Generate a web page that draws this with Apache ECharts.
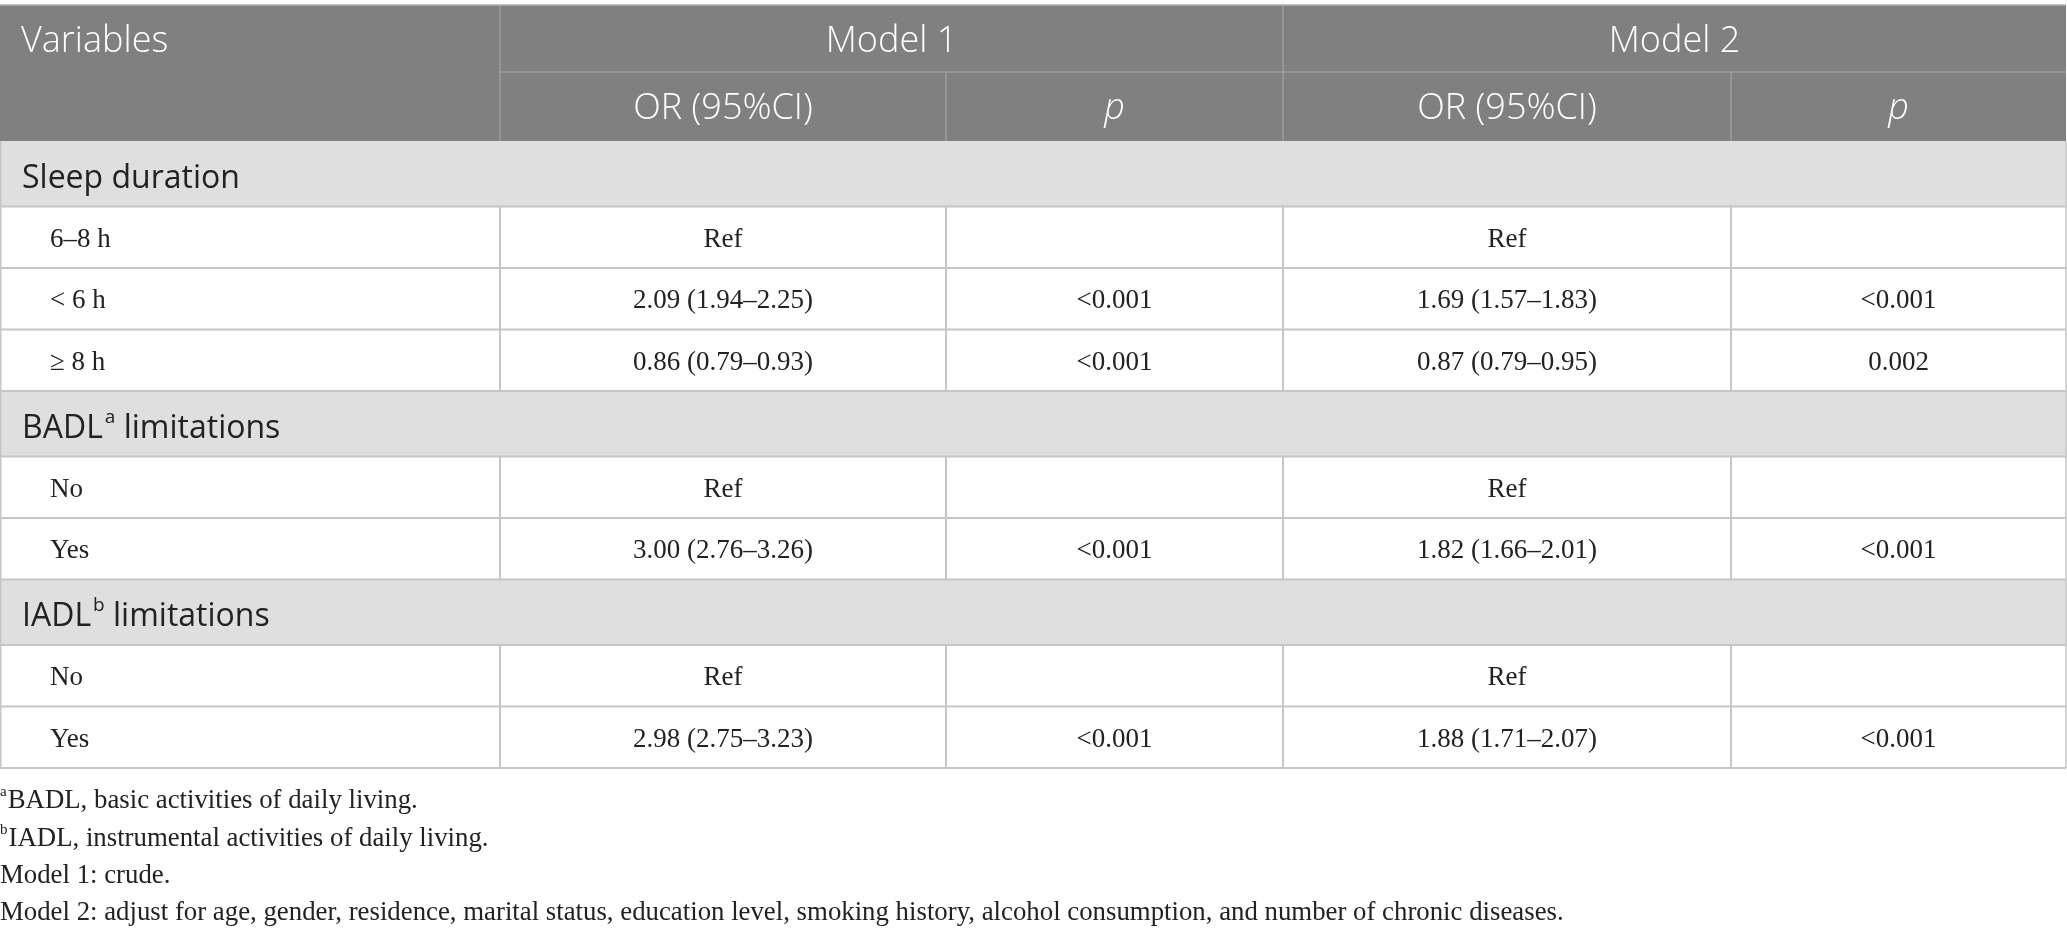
<!DOCTYPE html>
<html>
<head>
<meta charset="utf-8">
<script src="https://cdn.jsdelivr.net/npm/echarts@6/dist/echarts.min.js"></script>
<style>
html,body{margin:0;padding:0;background:#fff;}
#chart{width:2067px;height:932px;}
</style>
</head>
<body>
<div id="chart"></div>
<script>
// ---- data ----
var headerTop = ['Variables', 'Model 1', 'Model 2'];
var headerSub = ['OR (95%CI)', 'p', 'OR (95%CI)', 'p'];
var sections = [
  {name: 'Sleep duration', sup: ''},
  {name: 'BADL', sup: 'a', rest: ' limitations'},
  {name: 'IADL', sup: 'b', rest: ' limitations'}
];
var sectionRows = [3, 2, 2];
var rowLabels = ['6–8 h', '< 6 h', '≥ 8 h', 'No', 'Yes', 'No', 'Yes'];
var model1OR = ['Ref', '2.09 (1.94–2.25)', '0.86 (0.79–0.93)', 'Ref', '3.00 (2.76–3.26)', 'Ref', '2.98 (2.75–3.23)'];
var model1P  = ['', '<0.001', '<0.001', '', '<0.001', '', '<0.001'];
var model2OR = ['Ref', '1.69 (1.57–1.83)', '0.87 (0.79–0.95)', 'Ref', '1.82 (1.66–2.01)', 'Ref', '1.88 (1.71–2.07)'];
var model2P  = ['', '<0.001', '0.002', '', '<0.001', '', '<0.001'];
var footnotes = [
  {sup: 'a', text: 'BADL, basic activities of daily living.'},
  {sup: 'b', text: 'IADL, instrumental activities of daily living.'},
  {sup: '', text: 'Model 1: crude.'},
  {sup: '', text: 'Model 2: adjust for age, gender, residence, marital status, education level, smoking history, alcohol consumption, and number of chronic diseases.'}
];

// ---- layout ----
var colX = [0, 500, 946, 1283, 1731, 2066];
var tableTop = 5, head1H = 67, head2H = 69, sectionH = 65.5, rowH = 61.5;
var headBg = '#7f807f', secBg = '#e0dfe0', lineCol = '#c6c6c6', headLine = '#9c9c9c';
var sansFont = '"Open Sans", "Noto Sans", sans-serif';
var serifFont = '"Liberation Serif", "DejaVu Serif", serif';
var headSize = 36, secSize = 32, bodySize = 27, noteSize = 26.8;

var g = [];
function rect(x, y, w, h, fill) {
  g.push({type: 'rect', shape: {x: x, y: y, width: w, height: h}, style: {fill: fill}, silent: true});
}
function line(x1, y1, x2, y2, col, w) {
  g.push({type: 'line', shape: {x1: x1, y1: y1, x2: x2, y2: y2}, style: {stroke: col, lineWidth: w || 1.5}, silent: true, z: 5});
}
function text(t, x, y, align, font, size, fill, style, extra) {
  var s = {text: t, x: x, y: y, align: align, verticalAlign: 'middle',
    fontFamily: font, fontSize: size, fill: fill, fontStyle: style || 'normal'};
  if (extra) for (var k in extra) s[k] = extra[k];
  g.push({type: 'text', style: s, silent: true, z: 10});
}

// header
var h1 = tableTop, h2 = tableTop + head1H, hEnd = h2 + head2H;
rect(0, h1, colX[5], hEnd - h1, headBg);
line(0, h1, colX[5], h1, '#b0b0b0', 1.5);
line(colX[1], h2, colX[5], h2, headLine, 1.5);
line(colX[1], h1, colX[1], hEnd, headLine, 1.5);
line(colX[3], h1, colX[3], hEnd, headLine, 1.5);
line(colX[2], h2, colX[2], hEnd, headLine, 1.5);
line(colX[4], h2, colX[4], hEnd, headLine, 1.5);
var hw = {fontWeight: 300};
text(headerTop[0], 21, h1 + head1H / 2 + 3, 'left', sansFont, headSize, '#fff', 'normal', hw);
text(headerTop[1], (colX[1] + colX[3]) / 2, h1 + head1H / 2 + 3, 'center', sansFont, headSize, '#fff', 'normal', hw);
text(headerTop[2], (colX[3] + colX[5]) / 2, h1 + head1H / 2 + 3, 'center', sansFont, headSize, '#fff', 'normal', hw);
for (var i = 0; i < 4; i++) {
  var cx = (colX[i + 1] + colX[i + 2]) / 2;
  text(headerSub[i], cx, h2 + head2H / 2 + 2, 'center', sansFont, headSize, '#fff', headerSub[i] === 'p' ? 'italic' : 'normal', hw);
}

// body
var y = hEnd, r = 0;
for (var s = 0; s < sections.length; s++) {
  rect(0, y, colX[5], sectionH, secBg);
  var sec = sections[s];
  var rt = sec.sup ? '{m|' + sec.name + '}{s|' + sec.sup + '}{m|' + sec.rest + '}' : '{m|' + sec.name + '}';
  text(rt, 22, y + sectionH / 2 + 1, 'left', sansFont, secSize, '#222', 'normal', {
    rich: {
      m: {fontFamily: sansFont, fontSize: secSize, fill: '#222', lineHeight: 40, verticalAlign: 'bottom'},
      s: {fontFamily: sansFont, fontSize: 19, fill: '#222', lineHeight: 40, verticalAlign: 'top', padding: [3, 0, 0, 2]}
    }
  });
  line(0, y + sectionH, colX[5], y + sectionH, lineCol, 2);
  y += sectionH;
  for (var k = 0; k < sectionRows[s]; k++, r++) {
    var cy = y + rowH / 2 + 2.5;
    text(rowLabels[r], 50, cy, 'left', serifFont, bodySize, '#222');
    text(model1OR[r], (colX[1] + colX[2]) / 2, cy, 'center', serifFont, bodySize, '#222');
    text(model1P[r], (colX[2] + colX[3]) / 2, cy, 'center', serifFont, bodySize, '#222');
    text(model2OR[r], (colX[3] + colX[4]) / 2, cy, 'center', serifFont, bodySize, '#222');
    text(model2P[r], (colX[4] + colX[5]) / 2, cy, 'center', serifFont, bodySize, '#222');
    for (var c = 1; c < 5; c++) line(colX[c], y, colX[c], y + rowH, lineCol, 2);
    line(0, y + rowH, colX[5], y + rowH, lineCol, 2);
    y += rowH;
  }
}
// outer verticals
line(0.75, hEnd, 0.75, y, lineCol, 1.5);
line(colX[5], hEnd, colX[5], y, lineCol, 1.5);

// footnotes
var fy = [798, 836, 873, 910];
for (var f = 0; f < footnotes.length; f++) {
  var fn = footnotes[f];
  var t = fn.sup ? '{s|' + fn.sup + '}{m|' + fn.text + '}' : '{m|' + fn.text + '}';
  text(t, 0, fy[f], 'left', serifFont, noteSize, '#222', 'normal', {
    rich: {
      m: {fontFamily: serifFont, fontSize: noteSize, fill: '#222', lineHeight: 32, verticalAlign: 'bottom'},
      s: {fontFamily: serifFont, fontSize: 15, fill: '#222', lineHeight: 32, verticalAlign: 'top', padding: [3, 1, 0, 0]}
    }
  });
}

var chart = echarts.init(document.getElementById('chart'), null, {renderer: 'canvas'});
chart.setOption({backgroundColor: '#fff', animation: false, graphic: {elements: g}});
</script>
</body>
</html>
